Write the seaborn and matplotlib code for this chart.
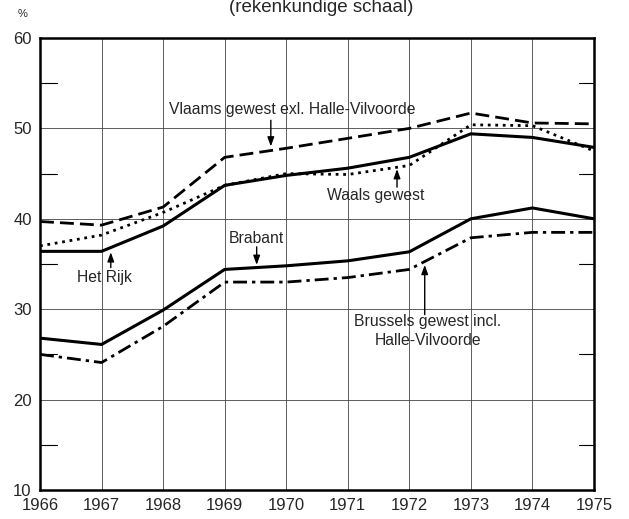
import numpy as np
import pandas as pd
import matplotlib
matplotlib.use("Agg")
import matplotlib.pyplot as plt
import seaborn as sns

# data
years = [1966, 1967, 1968, 1969, 1970, 1971, 1972, 1973, 1974, 1975]
vlaams = [39.7, 39.3, 41.3, 46.8, 47.8, 48.9, 50.0, 51.7, 50.6, 50.5]
rijk = [36.4, 36.4, 39.2, 43.7, 44.8, 45.6, 46.8, 49.4, 49.0, 47.9]
waals = [37.0, 38.2, 40.7, 43.7, 45.0, 44.9, 45.9, 50.4, 50.3, 47.5]
brabant = [26.8, 26.1, 29.9, 34.4, 34.8, 35.35, 36.35, 40.0, 41.2, 40.0]
brussel = [25.0, 24.1, 28.1, 33.0, 33.0, 33.5, 34.4, 37.9, 38.5, 38.5]

sns.set_style("white")
plt.rcParams['font.family'] = ['Liberation Sans', 'DejaVu Sans']

df = pd.DataFrame({'jaar': years, 'Vlaams': vlaams, 'Rijk': rijk,
                   'Waals': waals, 'Brabant': brabant, 'Brussel': brussel})

fig = plt.figure(figsize=(6.29, 5.19), dpi=100)
ax = fig.add_axes([40/629, 29/519, 554/629, 452/519])

styles = {
    'Vlaams': dict(dashes=(5, 2.2), lw=2.0),
    'Rijk': dict(dashes=None, lw=2.2),
    'Waals': dict(dashes=(1.0, 1.7), lw=2.0),
    'Brabant': dict(dashes=None, lw=2.2),
    'Brussel': dict(dashes=(5, 1.8, 1.2, 1.8), lw=2.0),
}
for col, st in styles.items():
    sns.lineplot(data=df, x='jaar', y=col, ax=ax, color='black', lw=st['lw'])
    if st['dashes'] is not None:
        ax.lines[-1].set_dashes(st['dashes'])

ax.set_xlim(1966, 1975)
ax.set_ylim(10, 60)
ax.set_xticks(years)
ax.set_yticks([10, 20, 30, 40, 50, 60])
ax.set_xlabel('')
ax.set_ylabel('')
ax.grid(True, color='#444444', lw=0.6)
for s in ax.spines.values():
    s.set_linewidth(1.8)
    s.set_color('black')
ax.tick_params(axis='both', length=0, labelsize=12)
ax.tick_params(axis='x', pad=6)
ax.tick_params(axis='y', pad=6)

# short inner ticks at the 5-units
for yv in [15, 25, 35, 45, 55]:
    ax.plot([1966, 1966.28], [yv, yv], color='black', lw=0.8)
    ax.plot([1974.75, 1975], [yv, yv], color='black', lw=0.8)

fs = 11.3
arrow = dict(arrowstyle='-|>,head_length=0.55,head_width=0.2', color='black', lw=1.0,
             shrinkA=0, shrinkB=0)
ax.text(1970.09, 52.1, 'Vlaams gewest exl. Halle-Vilvoorde', ha='center', va='center', fontsize=fs)
ax.annotate('', xy=(1969.75, 48.0), xytext=(1969.75, 50.9), arrowprops=arrow)

ax.text(1971.45, 42.6, 'Waals gewest', ha='center', va='center', fontsize=fs)
ax.annotate('', xy=(1971.8, 45.5), xytext=(1971.8, 43.5), arrowprops=arrow)

ax.text(1967.05, 33.5, 'Het Rijk', ha='center', va='center', fontsize=fs)
ax.annotate('', xy=(1967.15, 36.3), xytext=(1967.15, 34.6), arrowprops=arrow)

ax.text(1969.52, 37.8, 'Brabant', ha='center', va='center', fontsize=fs)
ax.annotate('', xy=(1969.52, 34.9), xytext=(1969.52, 36.9), arrowprops=arrow)

ax.text(1972.3, 27.6, 'Brussels gewest incl.\nHalle-Vilvoorde', ha='center', va='center',
        fontsize=fs, linespacing=1.35)
ax.annotate('', xy=(1972.25, 34.9), xytext=(1972.25, 29.4), arrowprops=arrow)

fig.text(22.5/629, 1 - 14/519, '%', ha='center', va='center', fontsize=8)
fig.text(321/629, 1 - 12.3/519, '(rekenkundige schaal)', ha='center', va='baseline', fontsize=13.5)

fig.savefig('out.png', dpi=100)
